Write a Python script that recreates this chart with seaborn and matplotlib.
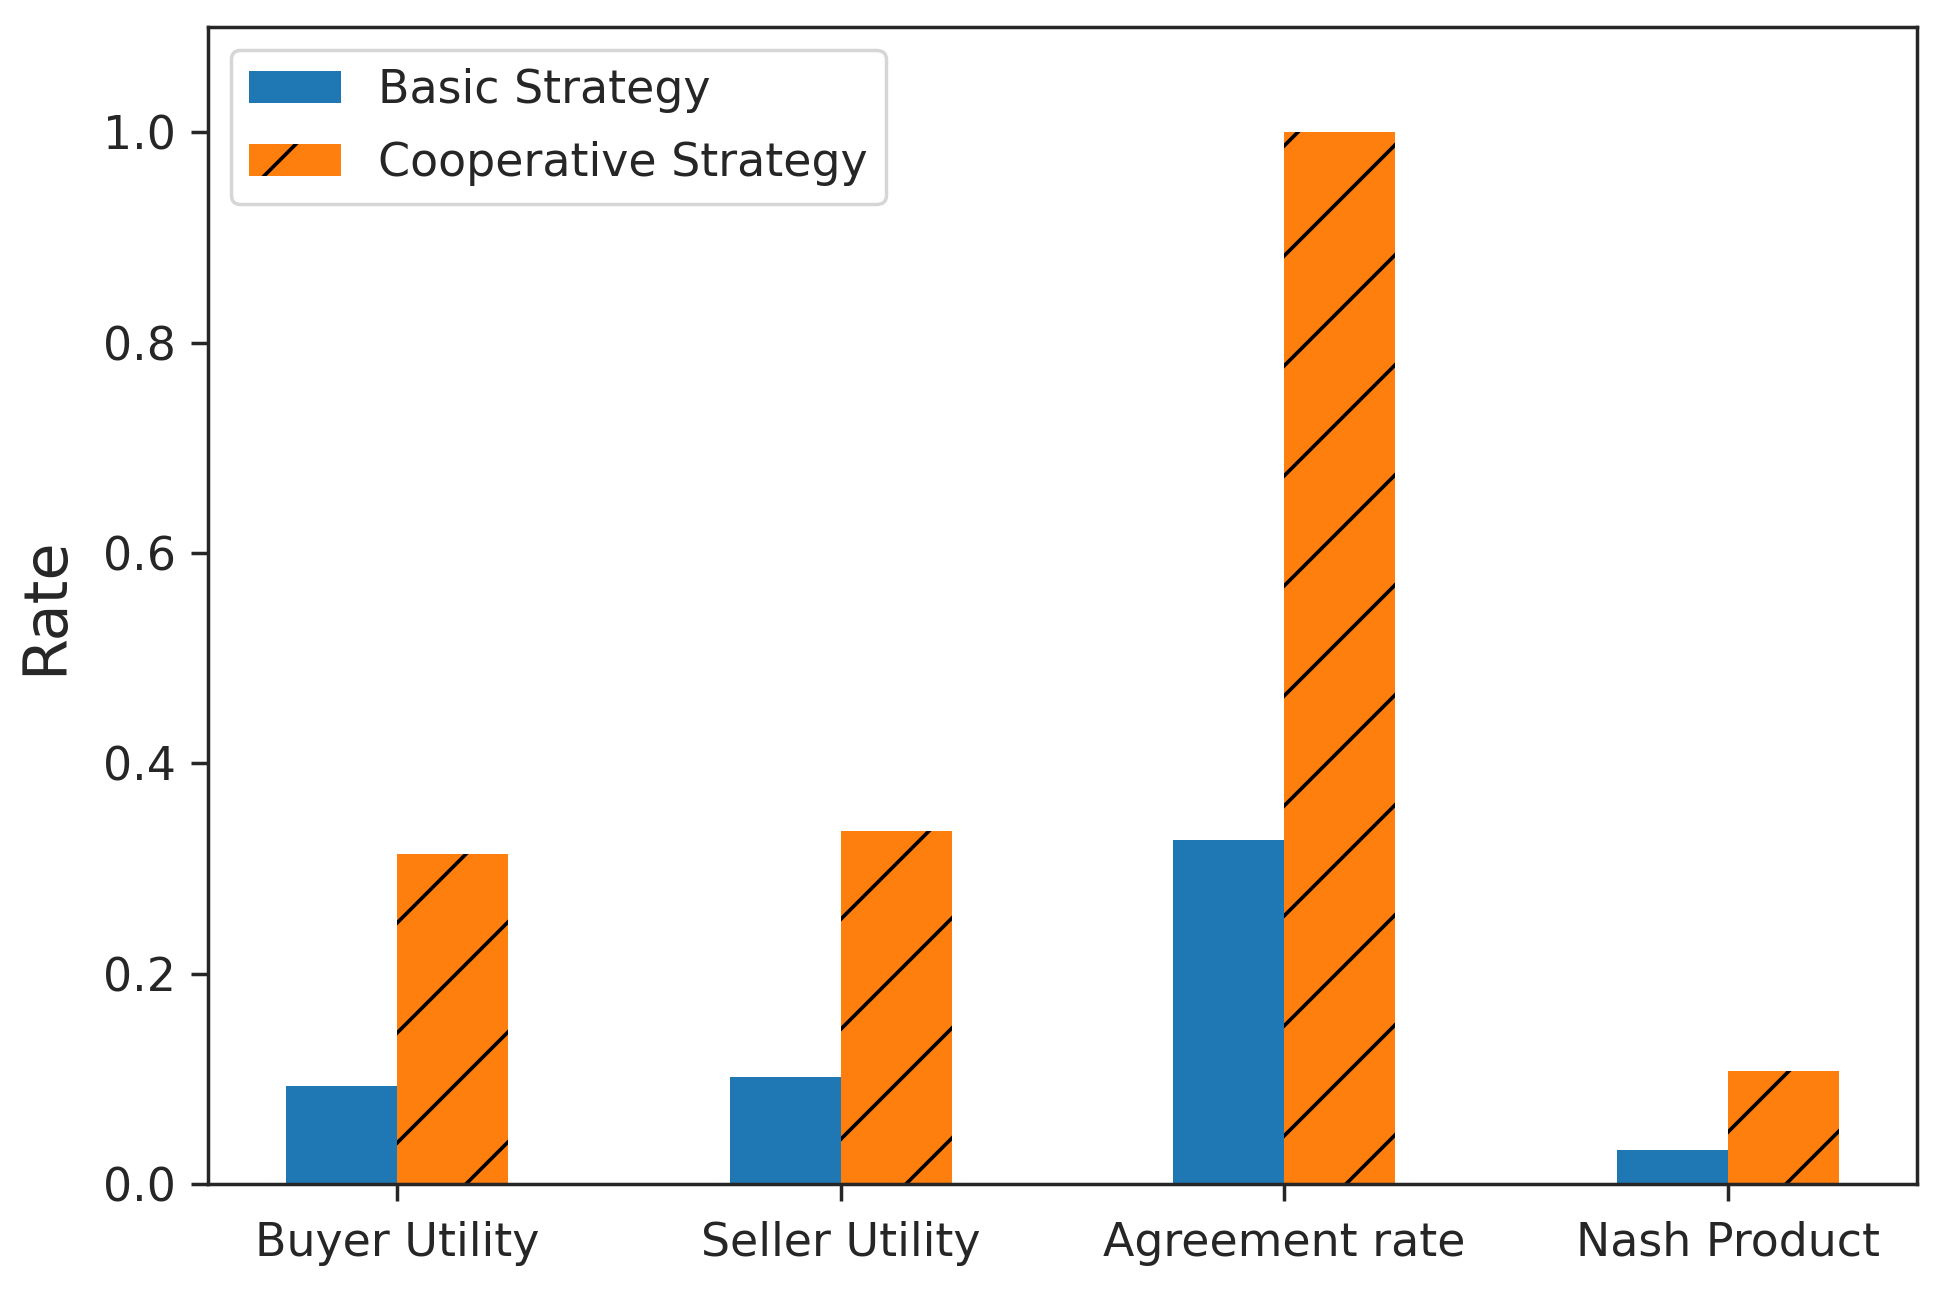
import pandas as pd
import matplotlib
matplotlib.use('Agg')
import matplotlib.pyplot as plt
import seaborn as sns

metrics = ['Buyer Utility', 'Seller Utility', 'Agreement rate', 'Nash Product']
basic = [0.093, 0.102, 0.327, 0.032]
cooperative = [0.314, 0.336, 1.0, 0.107]
strategies = ['Basic Strategy', 'Cooperative Strategy']

df = pd.DataFrame({
    'Metric': metrics * 2,
    'Rate': basic + cooperative,
    'Strategy': [strategies[0]] * 4 + [strategies[1]] * 4,
})

sns.set_style('ticks')
plt.rcParams['font.family'] = ['DejaVu Sans']
plt.rcParams['hatch.linewidth'] = 0.4
plt.rcParams['hatch.color'] = 'black'

dpi = 660
fig = plt.figure(figsize=(1952 / dpi, 1290 / dpi), dpi=dpi)
ax = fig.add_axes([0.1066, 0.0822, 0.982 - 0.1066, 0.979 - 0.0822])

sns.barplot(data=df, x='Metric', y='Rate', hue='Strategy', hue_order=strategies,
            palette=['#1f77b4', '#ff7f0e'], saturation=1, width=0.5,
            legend=False, ax=ax)

# hatch the cooperative bars
for p in ax.containers[1]:
    p.set_hatch('//')
    p.set_edgecolor('black')
    p.set_linewidth(0)
for p in ax.containers[0]:
    p.set_linewidth(0)

ax.set_xlim(-0.425, 3.425)
ax.set_ylim(0, 1.1)
ax.set_yticks([0.0, 0.2, 0.4, 0.6, 0.8, 1.0])
ax.set_xlabel('')
ax.set_ylabel('Rate', fontsize=6.6, labelpad=3)
ax.tick_params(labelsize=5.0, width=0.38, length=1.9, pad=1.6)
ax.tick_params(axis='x', pad=2.1)
for s in ax.spines.values():
    s.set_linewidth(0.38)

ax.legend(handles=list(ax.containers), labels=strategies, loc='upper left',
          fontsize=5.0, frameon=True, framealpha=0.8, edgecolor='0.8',
          labelspacing=0.6)
ax.get_legend().get_frame().set_linewidth(0.38)

fig.savefig('out.png', dpi=dpi)
